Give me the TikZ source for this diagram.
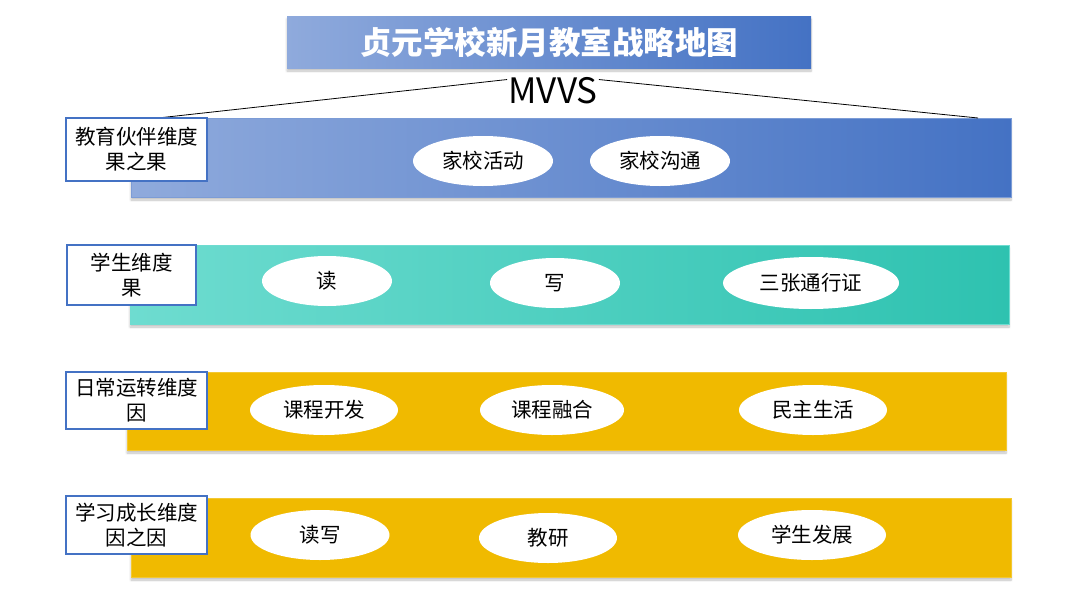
\documentclass[tikz,border=0pt]{standalone}
\usepackage{fontspec}
\setmainfont{Noto Sans CJK SC}
\usepackage{xcolor}
\usepackage{tikz}
\usetikzlibrary{shapes.geometric,shadows.blur,positioning}

\definecolor{blueL}{RGB}{143,170,220}
\definecolor{blueD}{RGB}{68,114,196}
\definecolor{tealL}{RGB}{110,220,208}
\definecolor{tealD}{RGB}{46,194,176}
\definecolor{gold}{RGB}{240,186,0}

\begin{document}
\begin{tikzpicture}[
    x=1pt, y=-1pt,
    every node/.style={font=\fontsize{20.5}{25}\selectfont},
    band/.style={rectangle, inner sep=0pt,
        blur shadow={shadow xshift=0pt, shadow yshift=-3pt, shadow blur steps=6, shadow opacity=25}},
    tag/.style={draw=blueD, line width=1.2pt, fill=white, rectangle, align=center, inner sep=0pt},
    pill/.style={ellipse, fill=white, inner sep=0pt, minimum height=50pt}
]
    \useasboundingbox (0,0) rectangle (1080,608);

    % title and MVVS
    \node[band, left color=blueL, right color=blueD, minimum width=524pt, minimum height=52pt,
          text=white, font=\fontsize{31.5}{34}\selectfont\bfseries] (title) at (549,42) {贞元学校新月教室战略地图};
    \node[font=\fontsize{35}{38}\selectfont, inner sep=1pt] (mvvs) at (553,91) {MVVS};
    \coordinate (lend) at (158,118);
    \coordinate (rend) at (978,118);

    % the four bands
    \node[band, left color=blueL, right color=blueD, draw=blueD!70, minimum width=880pt, minimum height=79pt] (band1) at (571,157.5) {};
    \node[band, left color=tealL, right color=tealD, draw=tealL, minimum width=879pt, minimum height=79pt] (band2) at (569.5,284.5) {};
    \node[band, fill=gold, draw=gold!80!white, minimum width=879pt, minimum height=78pt] (band3) at (566.5,411) {};
    \node[band, fill=gold, draw=gold!80!white, minimum width=880pt, minimum height=79pt] (band4) at (571,537.5) {};

    \draw[line width=0.8pt] (mvvs.166) -- (lend);
    \draw[line width=0.8pt] (mvvs.14) -- (rend);

    % dimension labels
    \node[tag, minimum width=141pt, minimum height=63pt] (tag1) at (136.5,149.5) {教育伙伴维度\\果之果};
    \node[tag, minimum width=129pt, minimum height=60pt] (tag2) at (131.5,275) {学生维度\\果};
    \node[tag, minimum width=141pt, minimum height=57pt] (tag3) at (136.5,400.5) {日常运转维度\\因};
    \node[tag, minimum width=141pt, minimum height=58pt] (tag4) at (136.5,525) {学习成长维度\\因之因};

    % items
    \node[pill, minimum width=140pt] (home1) at (483,161) {家校活动};
    \node[pill, minimum width=140pt] (home2) at (660,161) {家校沟通};

    \node[pill, minimum width=130pt] (read) at (327,281) {读};
    \node[pill, minimum width=130pt] (write) at (555,283) {写};
    \node[pill, minimum width=176pt, minimum height=52pt] (pass) at (811,283) {三张通行证};

    \node[pill, minimum width=148pt] (course1) at (324,410) {课程开发};
    \node[pill, minimum width=144pt] (course2) at (552,410) {课程融合};
    \node[pill, minimum width=148pt] (life) at (813,410) {民主生活};

    \node[pill, minimum width=139pt] (rw) at (320,535) {读写};
    \node[pill, minimum width=138pt] (study) at (548,538) {教研};
    \node[pill, minimum width=148pt] (grow) at (812,535) {学生发展};
\end{tikzpicture}
\end{document}
